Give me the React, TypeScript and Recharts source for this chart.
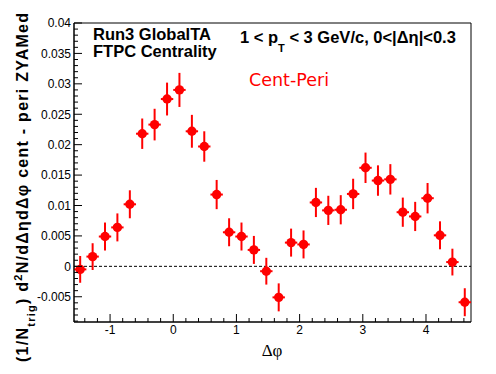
import React from 'react'
import {
  ScatterChart,
  Scatter,
  XAxis,
  YAxis,
  ErrorBar,
  ReferenceLine,
  ReferenceArea,
  Customized,
} from 'recharts'

// bin centres in delta-phi (32 bins over [-pi/2, 3pi/2])
const phiBins = [
  -1.473, -1.276, -1.08, -0.884, -0.687, -0.491, -0.295, -0.098, 0.098, 0.295,
  0.491, 0.687, 0.884, 1.08, 1.276, 1.473, 1.669, 1.865, 2.062, 2.258, 2.454,
  2.651, 2.847, 3.043, 3.24, 3.436, 3.633, 3.829, 4.025, 4.222, 4.418, 4.614,
]
const centMinusPeri = [
  -0.0005, 0.0016, 0.0049, 0.0064, 0.0102, 0.0218, 0.0233, 0.0275, 0.029,
  0.0222, 0.0197, 0.0118, 0.0056, 0.0049, 0.0027, -0.0008, -0.0051, 0.0039,
  0.0036, 0.0105, 0.0092, 0.0093, 0.0119, 0.0162, 0.0141, 0.0143, 0.0089,
  0.0082, 0.0112, 0.0051, 0.0007, -0.0059,
]
const statErrors = [
  0.0022, 0.0022, 0.0023, 0.0023, 0.0023, 0.0025, 0.0026, 0.0027, 0.0028,
  0.0027, 0.0025, 0.0024, 0.0023, 0.0023, 0.0023, 0.0022, 0.0023, 0.0023,
  0.0023, 0.0024, 0.0024, 0.0024, 0.0025, 0.0025, 0.0025, 0.0025, 0.0024,
  0.0024, 0.0025, 0.0023, 0.0022, 0.0023,
]
const binHalfWidth = 0.098

const xMajorTicks = [-1, 0, 1, 2, 3, 4]
const yMajorTicks = [-0.005, 0, 0.005, 0.01, 0.015, 0.02, 0.025, 0.03, 0.035, 0.04]

const X_MIN = -Math.PI / 2
const X_MAX = (3 * Math.PI) / 2
const Y_MIN = -0.00915
const Y_MAX = 0.04

const RED = '#ff0000'
const SANS = '"Liberation Sans", Arial, sans-serif'

const data = phiBins.map((phi, i) => ({
  phi,
  val: centMinusPeri[i],
  yErr: statErrors[i],
  xErr: binHalfWidth,
}))

function stepTicks(lo: number, hi: number, step: number) {
  const out: number[] = []
  for (let k = Math.ceil(lo / step - 1e-9); k * step <= hi + 1e-9; k++) {
    out.push(Number((k * step).toFixed(6)))
  }
  return out
}

const isMajor = (v: number, majors: number[]) =>
  majors.some((m) => Math.abs(m - v) < 1e-7)

const xTicks = stepTicks(X_MIN, X_MAX, 0.2)
const yTicks = stepTicks(Y_MIN, Y_MAX, 0.001)

const XTick = ({ x, y, payload }: any) => {
  const major = isMajor(payload.value, xMajorTicks)
  return (
    <g>
      <line x1={x} x2={x} y1={y} y2={y - (major ? 8 : 4)} stroke="#000" />
      {major && (
        <text x={x} y={y + 12} textAnchor="middle" fontSize={12} fill="#000">
          {payload.value}
        </text>
      )}
    </g>
  )
}

const YTick = ({ x, y, payload }: any) => {
  const major = isMajor(payload.value, yMajorTicks)
  return (
    <g>
      <line x1={x} x2={x + (major ? 8 : 4)} y1={y} y2={y} stroke="#000" />
      {major && (
        <text x={x - 3} y={y + 4.3} textAnchor="end" fontSize={12} fill="#000">
          {String(Number(payload.value.toFixed(3)))}
        </text>
      )}
    </g>
  )
}

const Dot = (props: any) => <circle cx={props.cx} cy={props.cy} r={4.7} fill={RED} />

// titles and the text boxes inside the frame
const Annotations = () => (
  <g fontFamily={SANS}>
    <text
      transform="translate(28,362) rotate(-90)"
      textAnchor="start"
      textLength={349}
      lengthAdjust="spacing"
      fontWeight="bold"
      fontSize={16}
      fill="#000"
    >
      (1/N
      <tspan fontSize={11} dy={7}>trig</tspan>
      <tspan dy={-7}>) d</tspan>
      <tspan fontSize={11} dy={-6}>2</tspan>
      <tspan dy={6}>N/dΔηdΔφ cent - peri ZYAMed</tspan>
    </text>
    <text
      x={272}
      y={356}
      textAnchor="middle"
      fontSize={17}
      fill="#000"
      fontFamily='"Liberation Serif", serif'
    >
      Δφ
    </text>
    <text x={93} y={40} fontWeight="bold" fontSize={16.5} fill="#000">
      Run3 GlobalTA
    </text>
    <text x={93} y={57} fontWeight="bold" fontSize={16.5} fill="#000">
      FTPC Centrality
    </text>
    <text x={240} y={43} fontWeight="bold" fontSize={16.5} fill="#000">
      1 &lt; p
      <tspan fontSize={11} dy={9}>T</tspan>
      <tspan dy={-9}> &lt; 3 GeV/c, 0&lt;|Δη|&lt;0.3</tspan>
    </text>
    <text x={249} y={86} fontSize={17.5} fill={RED} fontFamily='"DejaVu Sans", sans-serif'>
      Cent-Peri
    </text>
  </g>
)

export default function App() {
  return (
    <div
      style={{
        position: 'absolute',
        left: 0,
        top: 0,
        width: 496,
        height: 374,
        background: '#fff',
        fontFamily: SANS,
      }}
    >
      <ScatterChart width={496} height={374} margin={{ top: 23, right: 25, bottom: 0, left: 0 }}>
        <XAxis
          type="number"
          dataKey="phi"
          domain={[X_MIN, X_MAX]}
          allowDataOverflow
          ticks={xTicks}
          interval={0}
          tickSize={0}
          tickMargin={0}
          tickLine={false}
          tick={<XTick />}
          height={52}
          axisLine={{ stroke: '#000' }}
        />
        <YAxis
          type="number"
          dataKey="val"
          domain={[Y_MIN, Y_MAX]}
          allowDataOverflow
          ticks={yTicks}
          interval={0}
          tickSize={0}
          tickMargin={0}
          tickLine={false}
          tick={<YTick />}
          width={74}
          axisLine={{ stroke: '#000' }}
        />
        <ReferenceArea
          x1={X_MIN}
          x2={X_MAX}
          y1={Y_MIN}
          y2={Y_MAX}
          fill="none"
          fillOpacity={0}
          stroke="#000"
          strokeOpacity={1}
        />
        <ReferenceLine y={0} stroke="#000" strokeDasharray="3 2" />
        <Scatter data={data} shape={<Dot />} isAnimationActive={false}>
          <ErrorBar dataKey="yErr" direction="y" width={0} stroke={RED} strokeWidth={2} />
          <ErrorBar dataKey="xErr" direction="x" width={0} stroke={RED} strokeWidth={2} />
        </Scatter>
        <Customized component={<Annotations />} />
      </ScatterChart>
    </div>
  )
}
